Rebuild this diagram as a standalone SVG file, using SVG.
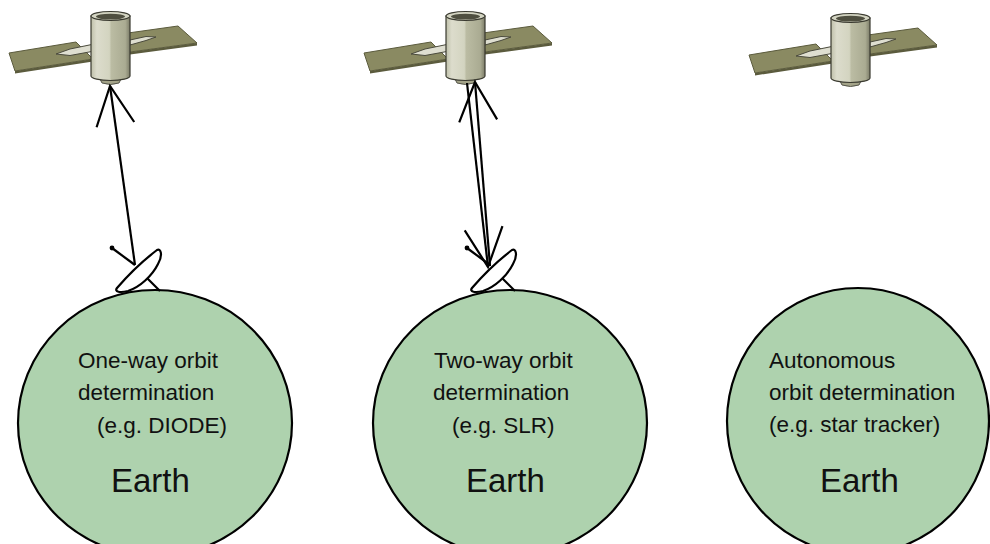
<svg xmlns="http://www.w3.org/2000/svg" width="990" height="544" viewBox="0 0 990 544">
  <style>
    .earth { fill: #aed2ae; stroke: #000; stroke-width: 2.2; }
    .lbl { font-family: "Liberation Sans", Arial, sans-serif; font-size: 22.5px; fill: #111; }
    .big { font-family: "Liberation Sans", Arial, sans-serif; font-size: 33px; fill: #111; }
    .wing { fill: #8a8a62; stroke: #5b5b3d; stroke-width: 1; }
    .wing-edge { fill: #5b5b3d; }
    .boom { fill: #deded0; stroke: #4a4a3c; stroke-width: 1; }
    .nozzle { fill: #a3a388; stroke: #55554a; stroke-width: 1; }
    .ray { fill: none; stroke: #000; stroke-width: 2.2; }
    .dish-line { stroke: #000; stroke-width: 2.2; fill: none; }
  </style>
  <defs>
    <linearGradient id="hull" x1="0" x2="1" y1="0" y2="0">
      <stop offset="0" stop-color="#bfc0aa"/>
      <stop offset="0.15" stop-color="#dcdccc"/>
      <stop offset="0.47" stop-color="#d3d4c0"/>
      <stop offset="0.52" stop-color="#bbbca3"/>
      <stop offset="0.88" stop-color="#aaab92"/>
      <stop offset="1" stop-color="#7c7c68"/>
    </linearGradient>
    <marker id="vee" markerUnits="userSpaceOnUse" viewBox="-45 -25 50 50" markerWidth="50" markerHeight="50" refX="0" refY="0" orient="auto" overflow="visible">
      <path d="M-39,-19 L0,0 L-39,19" fill="none" stroke="#000" stroke-width="2.2"/>
    </marker>
    <!-- satellite: wings, booms, thruster, cylindrical hull -->
    <g id="satellite">
      <polygon class="wing-edge" points="15,71 93,59 93,61.5 15,73.5"/>
      <polygon class="wing" points="9,53 76,42 93,59 15,71"/>
      <polygon class="wing-edge" points="130,52 197,43 197,45.5 130,54.5"/>
      <polygon class="wing" points="128,33 178,26 197,43 130,52"/>
      <path class="boom" d="M56,54 L70,49 L99,43 L100,50 L70,55.5 Z"/>
      <path class="boom" d="M130,40 L146,36.5 L156,37 L146,40.5 L130,45 Z"/>
      <path class="nozzle" d="M99,77 L122,77 L119,83 Q110.5,86 102,83 Z"/>
      <path fill="url(#hull)" stroke="#3a3a30" stroke-width="1.2" d="M91,16 L91,76 A19.5,4.5 0 0 0 130,76 L130,16 Z"/>
      <ellipse cx="110.5" cy="16" rx="19.5" ry="4.5" fill="#d3d4c2" stroke="#3a3a30" stroke-width="1.2"/>
      <ellipse cx="110.5" cy="16.6" rx="14.5" ry="2.9" fill="#4f4f40"/>
    </g>
    <!-- ground antenna: stand, bowl, feed arm -->
    <g id="dish">
      <line class="dish-line" x1="145" y1="276" x2="160" y2="291"/>
      <path d="M117,288 Q136,266 157,250 C161,248 163,255 158,264 C152,276 140,287 128,291 C120,293 114,292 117,288 Z" fill="#fff" stroke="#000" stroke-width="2.2"/>
      <line class="dish-line" x1="112" y1="248" x2="135" y2="265"/>
      <circle cx="112" cy="248" r="2.4" fill="#000"/>
    </g>
  </defs>

  <g id="earth-1">
    <ellipse class="earth" cx="155" cy="423" rx="137" ry="133"/>
    <text class="lbl" x="78" y="368">One-way orbit</text>
    <text class="lbl" x="78" y="400">determination</text>
    <text class="lbl" x="97" y="433">(e.g. DIODE)</text>
    <text class="big" x="111" y="492">Earth</text>
  </g>
  <g id="earth-2">
    <ellipse class="earth" cx="510" cy="423" rx="137" ry="133"/>
    <text class="lbl" x="434" y="368">Two-way orbit</text>
    <text class="lbl" x="433" y="400">determination</text>
    <text class="lbl" x="452" y="433">(e.g. SLR)</text>
    <text class="big" x="466" y="492">Earth</text>
  </g>
  <g id="earth-3">
    <ellipse class="earth" cx="858" cy="421" rx="131" ry="133"/>
    <text class="lbl" x="769" y="368">Autonomous</text>
    <text class="lbl" x="769" y="400">orbit determination</text>
    <text class="lbl" x="769" y="432">(e.g. star tracker)</text>
    <text class="big" x="820" y="492">Earth</text>
  </g>

  <g id="dish-1"><use href="#dish"/></g>
  <g id="dish-2"><use href="#dish" transform="translate(355,0)"/></g>

  <g id="satellite-1"><use href="#satellite"/></g>
  <g id="satellite-2"><use href="#satellite" transform="translate(355,0)"/></g>
  <g id="satellite-3"><use href="#satellite" transform="translate(740,2)"/></g>

  <g id="connectors">
    <path class="ray" d="M135,265 L110,86" marker-end="url(#vee)"/>
    <path class="ray" d="M490,266 L475,82" marker-end="url(#vee)"/>
    <path class="ray" d="M467,83 L488,267" marker-end="url(#vee)"/>
  </g>
</svg>
